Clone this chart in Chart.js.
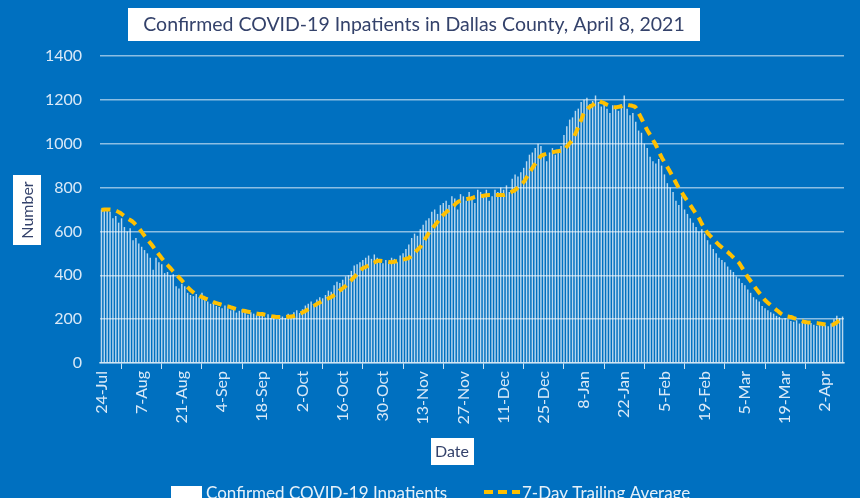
<!DOCTYPE html>
<html lang="en">
  <head>
    <meta charset="utf-8" />
    <title>Confirmed COVID-19 Inpatients in Dallas County</title>
    <style>
      * {
        margin: 0;
        padding: 0;
      }
      body {
        background: #0070c0;
      }
      .chartBox {
        width: 860px;
        height: 498px;
      }
    </style>
  </head>
  <body>
    <div class="chartBox">
      <canvas id="myChart"></canvas>
    </div>

    <script src="https://cdn.jsdelivr.net/npm/chart.js"></script>

    <script>
      // tick labels shown on the date axis (every 14 days)
      const tickLabels = [
        "24-Jul", "7-Aug", "21-Aug", "4-Sep", "18-Sep", "2-Oct", "16-Oct",
        "30-Oct", "13-Nov", "27-Nov", "11-Dec", "25-Dec", "8-Jan", "22-Jan",
        "5-Feb", "19-Feb", "5-Mar", "19-Mar", "2-Apr",
      ];

      // daily categories, 24-Jul-2020 .. 8-Apr-2021
      const months = ["Jan", "Feb", "Mar", "Apr", "May", "Jun", "Jul", "Aug", "Sep", "Oct", "Nov", "Dec"];
      const days = [];
      for (let t = Date.UTC(2020, 6, 24); t <= Date.UTC(2021, 3, 8); t += 86400000) {
        const d = new Date(t);
        days.push(d.getUTCDate() + "-" + months[d.getUTCMonth()]);
      }

      // confirmed inpatients, one row per week
      const inpatients = [
        700, 705, 695, 690, 660, 670, 640,
        660, 620, 600, 615, 560, 570, 545,
        530, 515, 500, 480, 425, 480, 460,
        450, 410, 415, 400, 405, 350, 340,
        360, 350, 320, 310, 305, 315, 300,
        320, 290, 280, 270, 280, 260, 255,
        250, 262, 250, 240, 245, 230, 238,
        245, 236, 220, 232, 225, 218, 224,
        215, 208, 222, 205, 210, 198, 215,
        212, 205, 225, 218, 232, 240, 228,
        245, 262, 270, 280, 265, 290, 300,
        295, 310, 330, 325, 355, 370, 365,
        380, 395, 400, 420, 445, 450, 460,
        470, 480, 490, 475, 495, 480, 470,
        455, 470, 462, 480, 475, 460, 490,
        500, 520, 540, 570, 590, 580, 610,
        630, 650, 660, 690, 700, 680, 720,
        730, 740, 720, 760, 750, 700, 770,
        760, 740, 780, 760, 730, 790, 780,
        770, 790, 740, 760, 790, 780, 800,
        790, 810, 780, 840, 860, 850, 870,
        890, 920, 950, 960, 980, 1000, 990,
        950, 920, 960, 980, 950, 970, 990,
        1040, 1080, 1110, 1120, 1150, 1160, 1190,
        1200, 1210, 1180, 1195, 1220, 1190, 1170,
        1185, 1160, 1140, 1175, 1170, 1150, 1180,
        1220, 1160, 1130, 1140, 1100, 1060, 1050,
        1000, 980, 940, 920, 910, 930, 900,
        860, 820, 800, 780, 740, 720, 760,
        700, 680, 660, 640, 620, 600, 610,
        590, 560, 540, 520, 500, 480, 470,
        460, 440, 425, 415, 395, 385, 365,
        355, 335, 320, 300, 290, 280, 260,
        250, 240, 232, 225, 215, 210, 200,
        205, 198, 192, 188, 195, 180, 190,
        185, 178, 182, 175, 170, 178, 180,
        172, 168, 180, 200, 215, 205, 212,
      ];

      // 7-day trailing average
      const trailingAvg = [
        698, 700, 700, 700, 698, 695, 688,
        680, 670, 660, 652, 643, 630, 615,
        598, 580, 563, 547, 530, 512, 495,
        478, 462, 447, 433, 418, 404, 390,
        376, 360, 346, 333, 322, 313, 306,
        301, 295, 290, 284, 278, 273, 269,
        265, 261, 258, 254, 250, 246, 242,
        239, 237, 234, 231, 228, 226, 223,
        223, 220, 217, 214, 212, 210, 210,
        209, 210, 211, 212, 214, 218, 224,
        230, 237, 245, 253, 261, 269, 276,
        283, 289, 295, 301, 310, 320, 331,
        341, 351, 365, 378, 392, 406, 420,
        432, 438, 445, 452, 458, 465, 466,
        465, 463, 461, 460, 462, 465, 468,
        471, 475, 479, 490, 503, 516, 529,
        550, 572, 593, 610, 627, 643, 660,
        675, 688, 698, 710, 722, 734, 740,
        745, 748, 750, 752, 757, 759, 761,
        763, 765, 766, 766, 766, 766, 766,
        766, 770, 776, 782, 789, 800, 812,
        825, 846, 868, 889, 908, 926, 944,
        950, 954, 958, 961, 964, 966, 968,
        971, 986, 1002, 1017, 1046, 1076, 1108,
        1140, 1155, 1168, 1176, 1186, 1195, 1190,
        1185, 1178, 1172, 1167, 1166, 1168, 1171,
        1176, 1178, 1175, 1172, 1165, 1140, 1115,
        1088, 1062, 1040, 1017, 994, 966, 939,
        916, 894, 871, 847, 822, 798, 778,
        758, 738, 720, 700, 680, 661, 635,
        614, 593, 579, 565, 551, 538, 527,
        516, 506, 494, 481, 469, 456, 435,
        414, 392, 374, 355, 337, 320, 303,
        287, 275, 264, 253, 242, 231, 221,
        215, 212, 210, 205, 200, 196, 191,
        187, 185, 184, 183, 182, 180, 178,
        176, 174, 173, 177, 185, 196, 200,
      ];

      const FONT = "Lato, 'Open Sans', sans-serif";
      const BOX_TEXT = "#34426b";

      // white boxes with text: title, axis titles, legend
      const decorations = {
        id: "decorations",
        beforeDraw(chart) {
          const { ctx, width, height } = chart;
          ctx.save();
          ctx.fillStyle = "#0070c0";
          ctx.fillRect(0, 0, width, height);
          ctx.restore();
        },
        afterDraw(chart) {
          const { ctx } = chart;
          ctx.save();
          ctx.textAlign = "center";
          ctx.textBaseline = "middle";

          // title
          ctx.fillStyle = "#ffffff";
          ctx.fillRect(128, 8, 572, 33);
          ctx.fillStyle = BOX_TEXT;
          ctx.font = `19.5px ${FONT}`;
          ctx.fillText("Confirmed COVID-19 Inpatients in Dallas County, April 8, 2021", 414, 25);

          // y axis title
          ctx.fillStyle = "#ffffff";
          ctx.fillRect(13, 175, 28, 70);
          ctx.save();
          ctx.translate(28, 210);
          ctx.rotate(-Math.PI / 2);
          ctx.fillStyle = BOX_TEXT;
          ctx.font = `16px ${FONT}`;
          ctx.fillText("Number", 0, 0);
          ctx.restore();

          // x axis title
          ctx.fillStyle = "#ffffff";
          ctx.fillRect(431, 438, 43, 27);
          ctx.fillStyle = BOX_TEXT;
          ctx.font = `16px ${FONT}`;
          ctx.fillText("Date", 452, 452);

          // legend (runs off the bottom edge like the original)
          ctx.textAlign = "left";
          ctx.font = `17px ${FONT}`;
          ctx.fillStyle = "#ffffff";
          ctx.fillRect(171, 486, 31, 14);
          ctx.fillStyle = "rgba(255,255,255,0.9)";
          ctx.fillText("Confirmed COVID-19 Inpatients", 206, 494);
          ctx.strokeStyle = "#ffc000";
          ctx.lineWidth = 4;
          ctx.setLineDash([9, 5]);
          ctx.beginPath();
          ctx.moveTo(484, 492);
          ctx.lineTo(520, 492);
          ctx.stroke();
          ctx.setLineDash([]);
          ctx.fillText("7-Day Trailing Average", 522, 494);
          ctx.restore();
        },
      };

      const config = {
        type: "bar",
        data: {
          labels: days,
          datasets: [
            {
              type: "line",
              label: "7-Day Trailing Average",
              data: trailingAvg,
              borderColor: "#ffc000",
              borderWidth: 4,
              borderDash: [9, 6],
              pointRadius: 0,
              tension: 0.4,
              order: 0,
            },
            {
              label: "Confirmed COVID-19 Inpatients",
              data: inpatients,
              backgroundColor: "rgba(255,255,255,0.72)",
              barPercentage: 0.5,
              categoryPercentage: 1,
              order: 1,
            },
          ],
        },
        options: {
          responsive: true,
          maintainAspectRatio: false,
          animation: false,
          layout: { padding: { top: 56, right: 16, left: 0, bottom: 0 } },
          plugins: {
            legend: { display: false },
            tooltip: { enabled: false },
          },
          scales: {
            x: {
              afterFit(scale) {
                scale.height = 135;
              },
              grid: {
                drawOnChartArea: false,
                tickLength: 6,
                color: (c) =>
                  c.tick && tickLabels.includes(c.tick.label) ? "rgba(255,255,255,0.8)" : "transparent",
              },
              border: { color: "rgba(255,255,255,0.55)", width: 1.5 },
              ticks: {
                autoSkip: false,
                minRotation: 90,
                maxRotation: 90,
                padding: 2,
                color: "rgba(235,243,252,0.92)",
                font: { family: FONT, size: 16 },
                callback(value) {
                  const lab = this.getLabelForValue(value);
                  return tickLabels.includes(lab) ? lab : null;
                },
              },
            },
            y: {
              min: 0,
              max: 1400,
              afterFit(scale) {
                scale.width = 100;
              },
              grid: {
                color: "rgba(255,255,255,0.55)",
                lineWidth: 1.5,
                drawTicks: false,
              },
              border: { display: false },
              ticks: {
                stepSize: 200,
                padding: 18,
                color: "rgba(235,243,252,0.92)",
                font: { family: FONT, size: 16 },
                callback: (v) => String(v),
              },
            },
          },
        },
        plugins: [decorations],
      };

      const myChart = new Chart(document.getElementById("myChart"), config);
    </script>
  </body>
</html>
